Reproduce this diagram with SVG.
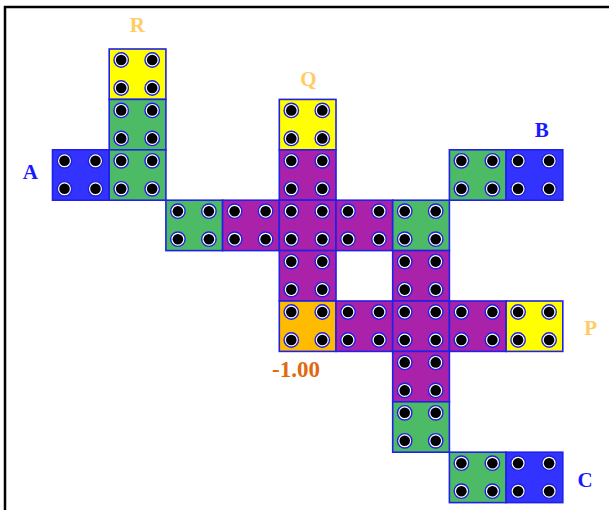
<svg xmlns="http://www.w3.org/2000/svg" xmlns:xlink="http://www.w3.org/1999/xlink" width="609" height="510" viewBox="0 0 609 510">
<style>
.c{stroke:#2020E8;stroke-width:1.6}
.y{fill:#FFFF00}.g{fill:#4DBB66}.p{fill:#AA22AA}.b{fill:#3333FF}.o{fill:#FFBB00}
.lab{font-family:"Liberation Serif",serif;font-weight:bold;font-size:21px;text-anchor:middle}
.lt{fill:#FFCC66}.bl{fill:#1A1AFF}
</style>
<defs>
<g id="dot"><circle r="7.2" fill="#fff" stroke="#2020E0" stroke-width="1.4"/><circle r="5.3" fill="#000"/></g>
<g id="dots">
<use xlink:href="#dot" x="12" y="11"/><use xlink:href="#dot" x="43" y="11"/>
<use xlink:href="#dot" x="12" y="39"/><use xlink:href="#dot" x="43" y="39"/>
</g>
</defs>
<rect x="5" y="7" width="640" height="540" fill="#fff" stroke="#000" stroke-width="2.5"/>
<g id="cells">
<g id="r0c1" transform="translate(109.2,49)"><rect class="c y" width="56.7" height="50.4"/><use xlink:href="#dots"/></g>
<g id="r1c1" transform="translate(109.2,99.4)"><rect class="c g" width="56.7" height="50.4"/><use xlink:href="#dots"/></g>
<g id="r1c4" transform="translate(279.3,99.4)"><rect class="c y" width="56.7" height="50.4"/><use xlink:href="#dots"/></g>
<g id="r2c0" transform="translate(52.5,149.8)"><rect class="c b" width="56.7" height="50.4"/><use xlink:href="#dots"/></g>
<g id="r2c1" transform="translate(109.2,149.8)"><rect class="c g" width="56.7" height="50.4"/><use xlink:href="#dots"/></g>
<g id="r2c4" transform="translate(279.3,149.8)"><rect class="c p" width="56.7" height="50.4"/><use xlink:href="#dots"/></g>
<g id="r2c7" transform="translate(449.4,149.8)"><rect class="c g" width="56.7" height="50.4"/><use xlink:href="#dots"/></g>
<g id="r2c8" transform="translate(506.1,149.8)"><rect class="c b" width="56.7" height="50.4"/><use xlink:href="#dots"/></g>
<g id="r3c2" transform="translate(165.9,200.2)"><rect class="c g" width="56.7" height="50.4"/><use xlink:href="#dots"/></g>
<g id="r3c3" transform="translate(222.6,200.2)"><rect class="c p" width="56.7" height="50.4"/><use xlink:href="#dots"/></g>
<g id="r3c4" transform="translate(279.3,200.2)"><rect class="c p" width="56.7" height="50.4"/><use xlink:href="#dots"/></g>
<g id="r3c5" transform="translate(336,200.2)"><rect class="c p" width="56.7" height="50.4"/><use xlink:href="#dots"/></g>
<g id="r3c6" transform="translate(392.7,200.2)"><rect class="c g" width="56.7" height="50.4"/><use xlink:href="#dots"/></g>
<g id="r4c4" transform="translate(279.3,250.6)"><rect class="c p" width="56.7" height="50.4"/><use xlink:href="#dots"/></g>
<g id="r4c6" transform="translate(392.7,250.6)"><rect class="c p" width="56.7" height="50.4"/><use xlink:href="#dots"/></g>
<g id="r5c4" transform="translate(279.3,301)"><rect class="c o" width="56.7" height="50.4"/><use xlink:href="#dots"/></g>
<g id="r5c5" transform="translate(336,301)"><rect class="c p" width="56.7" height="50.4"/><use xlink:href="#dots"/></g>
<g id="r5c6" transform="translate(392.7,301)"><rect class="c p" width="56.7" height="50.4"/><use xlink:href="#dots"/></g>
<g id="r5c7" transform="translate(449.4,301)"><rect class="c p" width="56.7" height="50.4"/><use xlink:href="#dots"/></g>
<g id="r5c8" transform="translate(506.1,301)"><rect class="c y" width="56.7" height="50.4"/><use xlink:href="#dots"/></g>
<g id="r6c6" transform="translate(392.7,351.4)"><rect class="c p" width="56.7" height="50.4"/><use xlink:href="#dots"/></g>
<g id="r7c6" transform="translate(392.7,401.8)"><rect class="c g" width="56.7" height="50.4"/><use xlink:href="#dots"/></g>
<g id="r8c7" transform="translate(449.4,452.2)"><rect class="c g" width="56.7" height="50.4"/><use xlink:href="#dots"/></g>
<g id="r8c8" transform="translate(506.1,452.2)"><rect class="c b" width="56.7" height="50.4"/><use xlink:href="#dots"/></g>
</g>
<g id="labels">
<text class="lab lt" x="137.3" y="32.3">R</text>
<text class="lab lt" x="308.3" y="85.7">Q</text>
<text class="lab bl" x="541.7" y="137.3">B</text>
<text class="lab bl" x="30.3" y="179">A</text>
<text class="lab lt" x="590.7" y="335">P</text>
<text class="lab bl" x="585" y="486.7">C</text>
<text class="lab" x="296" y="377" style="fill:#E06A10;font-size:23px">-1.00</text>
</g>
</svg>
